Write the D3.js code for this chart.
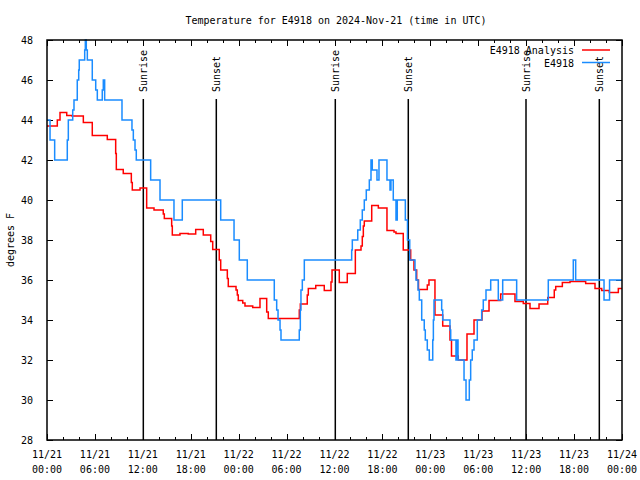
<!DOCTYPE html>
<html>
<head>
<meta charset="utf-8">
<script src="https://cdn.jsdelivr.net/npm/d3@7"></script>
<style>
  body { margin: 0; background: #fff; }
  text { font-family: "DejaVu Sans Mono", monospace; font-size: 10px; fill: #000; }
</style>
</head>
<body>
<div id="chart"></div>
<script>
// hours since 11/21 00:00 UTC, step changes
const obsHours = [0, 0.38, 0.96, 2.54, 2.67, 3.22, 3.38, 3.79, 3.97, 4.04, 4.72, 4.80, 4.92, 5.05, 5.67, 6.10, 6.30, 6.92, 7.05, 7.22,
  9.39, 10.64, 10.81, 11.02, 11.18, 12.98, 14.15, 15.90, 16.94, 21.75, 23.42, 24.08, 25.08, 28.46, 28.76, 28.93, 29.18, 29.30,
  31.59, 31.72, 31.80, 31.97, 32.22, 38.15, 38.23, 38.91, 39.23, 39.48, 39.73, 39.98, 40.36, 40.57, 40.73, 41.32, 41.57, 42.57,
  42.95, 43.07, 43.36, 43.70, 43.86, 44.87, 45.14, 45.42, 46.08, 46.20, 46.46, 46.62, 46.92, 47.24, 47.37, 47.62, 47.87,
  48.30, 48.38, 48.46, 49.42, 49.55, 50.46, 50.55, 51.21, 51.30, 51.47, 52.22, 52.47, 52.88, 53.05, 53.25, 53.47, 53.88,
  54.43, 54.63, 54.97, 55.56, 56.51, 57.06, 58.81, 62.77, 65.90, 66.20, 69.75, 70.44, 72];
const obsTemps = [44, 43, 42, 43, 44, 44.5, 45, 46, 46.5, 47, 47.5, 48, 47.5, 47, 46, 45.5, 45, 45.5, 46, 45,
  44, 43.5, 43, 42.5, 42, 41, 40, 39, 40, 39, 38, 37, 36, 35, 34.5, 34, 33.5, 33,
  33.5, 34.5, 35.5, 36, 37, 37.5, 38, 38.5, 39, 39.5, 40, 40.5, 41, 42, 41.5, 41, 42, 41,
  40.5, 41, 40, 39, 40, 39, 38, 37, 36.5, 36, 35.5, 35, 34, 33.5, 33, 32.5, 32,
  33, 34, 35, 34.5, 34, 33.5, 33, 32, 33, 32, 31, 30, 31, 32, 32.5, 33, 34,
  34.5, 35, 35.5, 36, 35, 36, 35, 36, 37, 36, 35, 36, 36];

const anaHours = [0, 1.29, 1.63, 2.47, 3.13, 4.55, 5.67, 7.55, 8.60, 8.68, 9.55, 10.56, 10.68, 11.65, 12.48, 13.40, 14.56, 14.69,
  15.61, 15.69, 16.65, 17.69, 18.62, 19.57, 20.50, 20.75, 21.57, 21.75, 22.58, 22.70, 23.67, 23.83, 23.95, 24.51, 24.79,
  25.76, 26.67, 27.51, 27.71, 31.59, 31.72, 32.59, 32.72, 33.65, 34.72, 35.56, 35.69, 36.60, 37.60, 38.61, 39.32, 39.48,
  39.61, 39.73, 40.66, 41.49, 42.57, 43.45, 43.70, 44.61, 45.54, 45.95, 46.29, 46.52, 47.62, 47.83, 48.58, 49.55, 50.46,
  50.65, 51.50, 52.59, 53.47, 54.47, 55.35, 56.81, 58.60, 59.64, 60.48, 61.61, 62.70, 63.52, 63.70, 64.53, 65.49, 67.45,
  68.62, 69.46, 70.41, 71.54, 72];
const anaTemps = [43.7, 44.0, 44.37, 44.23, 44.2, 43.87, 43.23, 43.03, 42.33, 41.53, 41.33, 40.87, 40.5, 40.6, 39.6, 39.5, 39.3, 39.08,
  38.7, 38.25, 38.33, 38.3, 38.53, 38.25, 37.92, 37.53, 37.0, 36.5, 36.08, 35.67, 35.5, 35.25, 34.97, 34.85, 34.7,
  34.63, 35.08, 34.4, 34.08, 34.5, 34.8, 35.25, 35.58, 35.72, 35.47, 35.9, 36.5, 35.87, 36.33, 37.5, 37.7, 38.17,
  38.7, 38.95, 39.73, 39.6, 38.47, 38.4, 38.33, 37.5, 37.0, 36.5, 36.0, 35.53, 35.75, 36.0, 34.25, 33.7, 33.0,
  32.2, 32.0, 33.3, 34.0, 34.45, 34.97, 35.3, 34.92, 34.83, 34.58, 34.8, 35.13, 35.5, 35.67, 35.87, 35.92, 35.83,
  35.58, 35.47, 35.38, 35.58, 35.58];

const sunLabels = ["Sunrise", "Sunset", "Sunrise", "Sunset", "Sunrise", "Sunset"];
const sunHours = [12.06, 21.2, 36.1, 45.24, 59.98, 69.16];

const xTickDates = ["11/21", "11/21", "11/21", "11/21", "11/22", "11/22", "11/22", "11/22", "11/23", "11/23", "11/23", "11/23", "11/24"];
const xTickTimes = ["00:00", "06:00", "12:00", "18:00", "00:00", "06:00", "12:00", "18:00", "00:00", "06:00", "12:00", "18:00", "00:00"];
const yTicks = [28, 30, 32, 34, 36, 38, 40, 42, 44, 46, 48];

const seriesNames = ["E4918 Analysis", "E4918"];
const seriesColors = ["#ff0000", "#1a8cff"];

const W = 640, H = 480;
const m = { left: 47, right: 18, top: 40, bottom: 40 };

const svg = d3.select("#chart").append("svg").attr("width", W).attr("height", H);

const x = d3.scaleLinear().domain([0, 72]).range([m.left, W - m.right]);
const y = d3.scaleLinear().domain([28, 48]).range([H - m.bottom, m.top]);

const majorX = d3.range(0, 73, 6);
const minorX = d3.range(0, 73, 2).filter(h => h % 6 !== 0);

// ticks point inwards like gnuplot
function tickAxis(axis, tr) {
  const g = svg.append("g").attr("transform", tr).call(axis);
  g.select(".domain").remove();
  g.selectAll("line").attr("stroke", "#000").attr("shape-rendering", "crispEdges");
  return g;
}
tickAxis(d3.axisBottom(x).tickValues(majorX).tickSize(-6).tickFormat(""), `translate(0,${y(28)})`);
tickAxis(d3.axisBottom(x).tickValues(minorX).tickSize(-3).tickFormat(""), `translate(0,${y(28)})`);
tickAxis(d3.axisTop(x).tickValues(majorX).tickSize(-6).tickFormat(""), `translate(0,${y(48)})`);
tickAxis(d3.axisTop(x).tickValues(minorX).tickSize(-3).tickFormat(""), `translate(0,${y(48)})`);
const yl = tickAxis(d3.axisLeft(y).tickValues(yTicks).tickSize(-6).tickPadding(14), `translate(${x(0)},0)`);
yl.selectAll("text").attr("font-family", null).attr("font-size", null);
tickAxis(d3.axisRight(y).tickValues(yTicks).tickSize(-6).tickFormat(""), `translate(${x(72)},0)`);

// x labels, two lines
const xl = svg.append("g");
majorX.forEach((h, i) => {
  const t = xl.append("text").attr("x", x(h)).attr("text-anchor", "middle");
  t.append("tspan").attr("x", x(h)).attr("y", 458).text(xTickDates[i]);
  t.append("tspan").attr("x", x(h)).attr("y", 473).text(xTickTimes[i]);
});

// sunrise / sunset markers
sunHours.forEach((h, i) => {
  svg.append("line")
    .attr("x1", x(h)).attr("x2", x(h))
    .attr("y1", 99).attr("y2", y(28))
    .attr("stroke", "#000").attr("stroke-width", 1.5);
  svg.append("text")
    .attr("transform", `translate(${x(h) + 4},92) rotate(-90)`)
    .attr("text-anchor", "start")
    .text(sunLabels[i]);
});

const line = d3.line().x(d => x(d[0])).y(d => y(d[1])).curve(d3.curveStepAfter);
const series = [d3.zip(anaHours, anaTemps), d3.zip(obsHours, obsTemps)];

series.forEach((s, i) => {
  svg.append("path").datum(s)
    .attr("fill", "none")
    .attr("stroke", seriesColors[i])
    .attr("stroke-width", 1.5)
    .attr("d", line);
});

// border
svg.append("rect")
  .attr("x", x(0)).attr("y", y(48))
  .attr("width", x(72) - x(0)).attr("height", y(28) - y(48))
  .attr("fill", "none").attr("stroke", "#000").attr("stroke-width", 1.5);

// legend
seriesNames.forEach((n, i) => {
  const ly = 50 + i * 12.5;
  svg.append("text").attr("x", 574).attr("y", ly + 4).attr("text-anchor", "end").text(n);
  svg.append("line").attr("x1", 582).attr("x2", 610).attr("y1", ly).attr("y2", ly)
    .attr("stroke", seriesColors[i]).attr("stroke-width", 1.5);
});

svg.append("text").attr("x", 336).attr("y", 24).attr("text-anchor", "middle")
  .text("Temperature for E4918 on 2024-Nov-21 (time in UTC)");

svg.append("text")
  .attr("transform", `translate(14,${(y(28) + y(48)) / 2}) rotate(-90)`)
  .attr("text-anchor", "middle")
  .text("degrees F");
</script>
</body>
</html>
